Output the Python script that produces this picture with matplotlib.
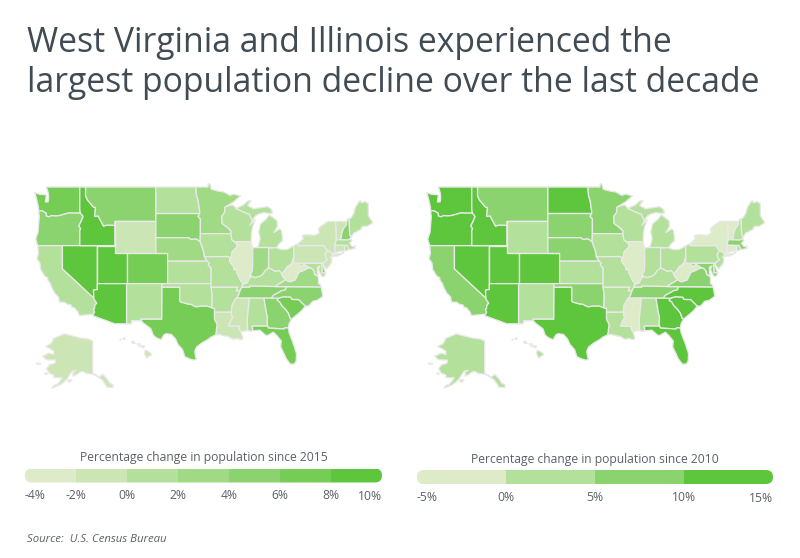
import numpy as np
import matplotlib
matplotlib.use("Agg")
import matplotlib.pyplot as plt
from matplotlib.patches import Polygon, FancyBboxPatch
from matplotlib.colors import BoundaryNorm, ListedColormap
from matplotlib.transforms import Affine2D

plt.rcParams['font.family'] = ['Open Sans', 'DejaVu Sans']

TITLE = "West Virginia and Illinois experienced the\nlargest population decline over the last decade"
SOURCE = "Source:  U.S. Census Bureau"
STATES = ["WA","OR","CA","NV","ID","MT","WY","UT","AZ","CO","NM","ND","SD","NE","KS","OK","TX",
          "MN","IA","MO","AR","LA","WI","IL","MI","IN","OH","KY","TN","MS","AL","GA","FL","SC","NC",
          "VA","WV","PA","NY","VT","NH","ME","MA","CT","RI","NJ","DE","MD","AK","HI"]
CHANGE_2015 = [7,5,1,9,9,5,-1,9,9,7,1,1,5,3,1,1,7,
               3,1,1,1,-1,1,-3,1,3,1,1,5,-1,1,5,7,7,5,
               3,-3,-1,-1,-1,5,1,1,-1,1,-1,5,1,-1,-1]
CHANGE_2010 = [12,12,7,12,12,7,2,12,12,12,2,12,7,7,2,7,12,
               7,2,2,2,2,2,-2,2,2,2,2,7,-2,2,12,12,12,12,
               7,-2,2,-2,-2,2,2,7,-2,2,2,7,7,2,2]
BINS_2015 = [-4,-2,0,2,4,6,8,10]
COLORS_2015 = ["#DDEBC9","#CBE6B4","#B3E09A","#A0DA85","#8BD36F","#75CD56","#5EC63C"]
BINS_2010 = [-5,0,5,10,15]
COLORS_2010 = ["#DDEBC9","#B3E09A","#8BD36F","#5EC63C"]
LEGEND_2015 = "Percentage change in population since 2015"
LEGEND_2010 = "Percentage change in population since 2010"

# State outlines (longitude, latitude)
RED_RIVER = [(-100,34.56),(-99.7,34.4),(-99.2,34.3),(-98.6,34.15),(-98.1,34.13),(-97.6,33.9),(-97.15,33.75),(-96.6,33.85),(-95.9,33.87),(-95.3,33.87),(-94.5,33.63)]
SNAKE = [(-116.92,45.99),(-116.46,45.6),(-116.85,44.95),(-117.2,44.45),(-117.03,44.25),(-116.9,44.15),(-117.03,43.83),(-117.03,42)]
BITTERROOT = [(-116.05,48),(-115.7,47.5),(-114.7,46.7),(-114.35,46.65),(-114.5,45.6),(-113.9,45.65),(-113.45,45.05),(-113,44.45),(-112.3,44.55),(-111.5,44.55),(-111.05,44.48)]
COLORADO_R = [(-114.63,35),(-114.57,34.8),(-114.14,34.3),(-114.45,34),(-114.53,33.5),(-114.72,33.4),(-114.5,33),(-114.72,32.72)]
OHIO_R = [(-82.6,38.4),(-83,38.73),(-83.7,38.65),(-84.25,38.9),(-84.82,39.1),(-85.45,38.7),(-85.8,38.27),(-86.3,38),(-87.1,37.8),(-87.6,37.95),(-88.05,37.8),(-88.45,37.1),(-89.13,36.98)]
MISS_MO = [(-91.42,40.38),(-91.5,40),(-90.75,39.25),(-90.7,38.9),(-90.15,38.8),(-90.2,38.4),(-89.85,37.9),(-89.5,37.3),(-89.13,36.98)]
MISS_IA = [(-91.22,43.5),(-91.1,42.75),(-90.65,42.5),(-90.15,42.1),(-90.3,41.75),(-91.05,41.2),(-91.1,40.7),(-91.42,40.38)]
MISS_AR = [(-90.37,36),(-89.7,36),(-89.9,35.5),(-90.15,35.1),(-90.6,34.7),(-91.1,33.9),(-91.17,33)]
MISS_LA = [(-91.17,33),(-91.1,32.5),(-90.9,32.3),(-91.4,31.6),(-91.6,31)]
MO_RIVER = [(-96.5,42.5),(-96.1,41.7),(-95.9,41.2),(-95.77,40.58)]
ST_CROIX = [(-92.3,46.65),(-92.3,46.1),(-92.8,45.6),(-92.75,44.75),(-91.9,44.3),(-91.25,43.85),(-91.22,43.5)]
RED_N = [(-97.23,49),(-97.1,48),(-96.85,47.5),(-96.6,46.35),(-96.56,45.94)]
SAB_TX = [(-94.04,32),(-93.8,31.6),(-93.55,31.2),(-93.7,30.6),(-93.72,30.1),(-93.85,29.7)]
SAV_R = [(-83.1,35),(-83.35,34.7),(-82.9,34.45),(-82.55,33.95),(-81.9,33.4),(-81.45,32.9),(-81.1,32.1),(-80.87,32.03)]
CHATT = [(-85,31),(-85.05,31.55),(-85,32.3),(-85.18,32.87),(-85.6,34.98)]
NC_SC = [(-83.1,35),(-82.3,35.2),(-81.05,35.15),(-80.8,34.82),(-79.67,34.8),(-78.55,33.87)]
TN_NC = [(-84.32,35),(-84,35.4),(-83.1,35.77),(-82.6,36.03),(-82,36.12),(-81.68,36.59)]
WV_VA = [(-77.83,39.13),(-78.35,39),(-78.87,38.77),(-79.65,38.55),(-80.3,37.5),(-81.25,37.25),(-81.97,37.54)]
KY_VA = [(-83.68,36.6),(-83.1,36.95),(-82.3,37.3),(-81.97,37.54)]
rev = lambda p: p[::-1]

SHAPES = {
"WA":[[(-124.7,48.38),(-123.9,48.17),(-123.1,48.15),(-122.75,48.1),(-122.9,47.3),(-122.45,47.3),(-122.35,47.7),(-122.4,48.3),(-122.75,49),(-117.03,49),(-117.04,46.42),(-116.92,45.99),(-118.98,46),(-119.3,45.93),(-120.5,45.7),(-121.2,45.65),(-121.8,45.7),(-122.3,45.55),(-122.75,45.65),(-122.8,46),(-123.2,46.15),(-123.5,46.26),(-124.05,46.27),(-124.1,46.7),(-124.2,47),(-124.4,47.6)]],
"OR":[[(-124.05,46.27),(-123.5,46.26),(-123.2,46.15),(-122.8,46),(-122.75,45.65),(-122.3,45.55),(-121.8,45.7),(-121.2,45.65),(-120.5,45.7),(-119.3,45.93),(-118.98,46)]+SNAKE+[(-124.2,42),(-124.4,42.4),(-124.55,42.85),(-124.15,43.7),(-124.05,44.7),(-123.95,45.5)]],
"CA":[[(-124.2,42),(-120,42),(-120,39)]+COLORADO_R+[(-117.12,32.53),(-117.3,33),(-117.9,33.6),(-118.4,33.75),(-118.5,34.03),(-119.2,34.15),(-119.6,34.42),(-120.5,34.45),(-120.65,35.15),(-121.3,35.7),(-121.9,36.6),(-122,36.95),(-122.5,37.5),(-122.5,37.8),(-123,38),(-123.7,38.9),(-123.85,39.8),(-124.35,40.3),(-124.1,41)]],
"NV":[[(-120,42),(-114.04,42),(-114.04,36.2),(-114.7,36.1),(-114.63,35),(-120,39)]],
"ID":[[(-117.03,49),(-116.05,49)]+BITTERROOT+[(-111.05,42)]+rev(SNAKE)+[(-117.04,46.42)]],
"MT":[[(-116.05,49),(-104.05,49),(-104.05,45),(-111.05,45)]+rev(BITTERROOT)],
"WY":[[(-111.05,45),(-104.05,45),(-104.05,41),(-111.05,41)]],
"UT":[[(-114.04,42),(-111.05,42),(-111.05,41),(-109.05,41),(-109.05,37),(-114.04,37)]],
"CO":[[(-109.05,41),(-102.05,41),(-102.05,37),(-109.05,37)]],
"AZ":[[(-114.04,37),(-109.05,37),(-109.05,31.33),(-111.07,31.33),(-114.8,32.5)]+rev(COLORADO_R)+[(-114.7,36.1),(-114.04,36.2)]],
"NM":[[(-109.05,37),(-103,37),(-103.04,32),(-106.62,32),(-106.53,31.78),(-108.2,31.78),(-108.2,31.33),(-109.05,31.33)]],
"TX":[[(-103,36.5),(-100,36.5)]+RED_RIVER+[(-94.04,33.55),(-94.04,33)]+SAB_TX+[(-94.7,29.35),(-95.2,29),(-96.2,28.5),(-97.1,27.9),(-97.4,27.3),(-97.35,26.8),(-97.15,25.96),(-97.6,25.9),(-98.2,26.05),(-99.1,26.4),(-99.5,27.5),(-100.3,28.3),(-100.7,29.1),(-101.4,29.77),(-102.3,29.88),(-102.7,29.7),(-103.15,28.98),(-104,29.3),(-104.5,29.65),(-104.9,30.6),(-106.2,31.45),(-106.53,31.78),(-106.62,32),(-103.04,32)]],
"OK":[[(-103,37),(-94.62,37),(-94.62,36.5),(-94.43,35.39)]+rev(RED_RIVER)+[(-100,36.5),(-103,36.5)]],
"KS":[[(-102.05,40),(-95.3,40),(-94.9,39.75),(-95.1,39.5),(-94.62,39.1),(-94.62,37),(-102.05,37)]],
"NE":[[(-104.05,43),(-98.5,43),(-98,42.77),(-97.2,42.85)]+MO_RIVER+[(-95.3,40),(-102.05,40),(-102.05,41),(-104.05,41)]],
"SD":[[(-104.05,45.94),(-96.56,45.94),(-96.85,45.6),(-96.45,45.3),(-96.45,43.5),(-96.5,42.5),(-97.2,42.85),(-98,42.77),(-98.5,43),(-104.05,43)]],
"ND":[[(-104.05,49)]+RED_N+[(-104.05,45.94)]],
"MN":[[(-97.23,49),(-95.15,49),(-95.15,49.38),(-94.8,49.3),(-94.6,48.75),(-93.5,48.55),(-92.5,48.45),(-91.4,48.05),(-90.8,48.2),(-89.6,48),(-90.8,47.3),(-92.1,46.75)]+ST_CROIX+[(-96.45,43.5),(-96.45,45.3),(-96.85,45.6)]+rev(RED_N)[:-1]],
"IA":[[(-96.45,43.5)]+MISS_IA+[(-91.7,40.6)]+rev(MO_RIVER)],
"MO":[[(-95.77,40.58),(-91.7,40.6)]+MISS_MO+[(-89.4,36.5),(-89.7,36),(-90.37,36),(-90.1,36.5),(-94.62,36.5),(-94.62,39.1),(-95.1,39.5),(-94.9,39.75),(-95.3,40)]],
"AR":[[(-94.62,36.5),(-90.1,36.5)]+MISS_AR+[(-94.04,33),(-94.04,33.55),(-94.5,33.63),(-94.43,35.39)]],
"LA":[[(-94.04,33)]+MISS_LA+[(-89.75,31),(-89.85,30.65),(-89.55,30.2),(-89.4,29.8),(-89.2,29.3),(-89.4,28.95),(-90.1,29.15),(-90.9,29.05),(-91.8,29.5),(-92.3,29.55),(-93.2,29.77)]+rev(SAB_TX)],
"MS":[[(-90.3,35),(-88.2,35),(-88.1,34.9),(-88.47,31.9),(-88.4,30.35),(-89.55,30.2),(-89.85,30.65),(-89.75,31)]+rev(MISS_LA)+[(-91.1,33.9),(-90.6,34.7)]],
"AL":[[(-88.2,35)]+rev(CHATT)+[(-87.6,31),(-87.5,30.3),(-88,30.25),(-88.4,30.35),(-88.47,31.9),(-88.1,34.9)]],
"GA":[[(-85.6,34.98),(-84.32,35)]+SAV_R+[(-81.3,31.4),(-81.45,30.72),(-82.05,30.75),(-82.2,30.57),(-84.86,30.71)]+CHATT],
"FL":[[(-87.6,31),(-85,31),(-84.86,30.71),(-82.2,30.57),(-82.05,30.75),(-81.45,30.72),(-81.3,30),(-80.6,28.4),(-80.05,26.9),(-80.1,25.8),(-80.4,25.3),(-81.1,25.28),(-81.8,26.1),(-82.2,26.9),(-82.75,27.9),(-82.65,28.8),(-83.4,29.6),(-84,30.1),(-85,29.6),(-85.4,29.7),(-86.3,30.4),(-87.5,30.3)]],
"SC":[NC_SC+[(-79.2,33.2),(-79.9,32.7)]+rev(SAV_R)],
"NC":[[(-84.32,35)]+NC_SC+[(-77.95,33.9),(-77.3,34.55),(-76.5,34.7),(-75.55,35.25),(-75.85,36.55)]+rev(TN_NC)],
"TN":[[(-90.3,35),(-88.2,35),(-85.6,34.98)]+TN_NC+[(-83.68,36.6),(-86.5,36.65),(-88.07,36.65),(-88.07,36.5),(-89.4,36.5),(-89.7,36),(-89.9,35.5),(-90.15,35.1)]],
"KY":[[(-89.4,36.5),(-88.07,36.5),(-88.07,36.65),(-86.5,36.65)]+KY_VA+[(-82.6,38.17)]+OHIO_R],
"IL":[[(-90.65,42.5),(-87.8,42.5),(-87.55,41.7),(-87.53,39.35),(-87.6,38.7),(-87.95,38.2),(-88.05,37.8),(-88.45,37.1)]+rev(MISS_MO)+[(-91.1,40.7),(-91.05,41.2),(-90.3,41.75),(-90.15,42.1)]],
"IN":[[(-87.53,41.72),(-87.2,41.75),(-86.8,41.76),(-84.8,41.76),(-84.82,39.1),(-85.45,38.7),(-85.8,38.27),(-86.3,38),(-87.1,37.8),(-87.6,37.95),(-87.95,38.2),(-87.6,38.7),(-87.53,39.35)]],
"OH":[[(-84.8,41.7),(-83.45,41.73),(-82.7,41.5),(-81.7,41.5),(-80.52,41.98),(-80.52,40.64),(-80.7,40.1),(-80.85,39.7),(-81.7,39.2),(-82.2,38.6),(-82.6,38.4),(-83,38.73),(-83.7,38.65),(-84.25,38.9),(-84.82,39.1)]],
"MI":[[(-86.8,41.76),(-84.8,41.76),(-83.45,41.73),(-83.15,42.1),(-82.5,42.6),(-82.45,43),(-82.6,43.9),(-82.95,44.07),(-83.9,43.65),(-83.3,44.4),(-83.4,45.1),(-84.7,45.78),(-85.1,45.4),(-85.5,45.1),(-86.2,44.7),(-86.5,43.7),(-86.25,42.9),(-86.6,41.9)],
      [(-90.4,46.55),(-89.1,46.95),(-88.4,47.4),(-87.8,47.45),(-88.4,46.9),(-87.4,46.5),(-86,46.65),(-85,46.75),(-84.4,46.5),(-84.1,46),(-84.8,45.95),(-85.6,46.05),(-86.4,45.9),(-87,45.7),(-87.6,45.1),(-88.1,45.85),(-89.1,46.13)]],
"WI":[[(-92.1,46.75),(-90.9,46.95),(-90.4,46.55),(-89.1,46.13),(-88.1,45.85),(-87.6,45.1),(-88,44.55),(-87.1,45.25),(-87.55,44.3),(-87.75,43.5),(-87.8,42.5),(-90.65,42.5),(-91.1,42.75)]+rev(ST_CROIX)],
"PA":[[(-80.52,41.98),(-79.76,42.27),(-79.76,42),(-75.35,42),(-75.05,41.6),(-74.7,41.36),(-75.15,40.95),(-75.05,40.45),(-74.75,40.2),(-75.4,39.8),(-75.79,39.72),(-80.52,39.72),(-80.52,40.64)]],
"NY":[[(-79.76,42.27),(-79.76,42),(-75.35,42),(-75.05,41.6),(-74.7,41.36),(-73.9,41),(-74.02,40.7),(-73.65,41),(-73.5,41.3),(-73.5,42.05),(-73.25,42.75),(-73.3,44),(-73.35,45),(-74.7,45),(-75.8,44.45),(-76.3,44.15),(-76.2,43.55),(-76.9,43.3),(-78.5,43.37),(-79.05,43.27),(-78.9,42.85)],
      [(-74,40.6),(-73.7,40.9),(-72.6,40.98),(-72,41.1),(-72.9,40.7)]],
"VT":[[(-73.35,45),(-71.5,45),(-71.55,44.6),(-72.05,44.1),(-72.3,43.6),(-72.45,43),(-72.46,42.73),(-73.25,42.75),(-73.3,44)]],
"NH":[[(-71.5,45),(-71.3,45.3),(-71.08,45.3),(-70.98,43.4),(-70.72,43.07),(-70.82,42.87),(-71.3,42.7),(-72.46,42.73),(-72.45,43),(-72.3,43.6),(-72.05,44.1),(-71.55,44.6)]],
"ME":[[(-71.08,45.3),(-70.8,45.4),(-70.3,45.9),(-70,46.7),(-69.23,47.46),(-68.9,47.2),(-68.3,47.35),(-67.8,47.07),(-67.8,45.7),(-67.45,45.3),(-67,44.85),(-68,44.4),(-68.8,44.4),(-69.1,44),(-69.8,43.75),(-70.25,43.6),(-70.72,43.07),(-70.98,43.4)]],
"MA":[[(-73.25,42.75),(-72.46,42.73),(-71.3,42.7),(-70.82,42.87),(-70.6,42.65),(-71,42.3),(-70.65,41.95),(-70.05,41.8),(-70.15,42.05),(-69.95,41.67),(-70.65,41.55),(-71.13,41.5),(-71.2,41.65),(-71.38,41.9),(-71.38,42.02),(-71.8,42.02),(-73.5,42.05)]],
"RI":[[(-71.8,42.02),(-71.38,42.02),(-71.38,41.9),(-71.2,41.65),(-71.13,41.5),(-71.5,41.37),(-71.85,41.32)]],
"CT":[[(-73.5,42.05),(-71.8,42.02),(-71.85,41.32),(-72.9,41.25),(-73.65,41),(-73.5,41.3)]],
"NJ":[[(-74.7,41.36),(-73.9,41),(-74.02,40.7),(-74.25,40.5),(-74,40.45),(-74.1,39.75),(-74.9,38.95),(-75.15,39.2),(-75.55,39.55),(-75.4,39.8),(-74.75,40.2),(-75.05,40.45),(-75.15,40.95)]],
"DE":[[(-75.79,39.72),(-75.4,39.8),(-75.55,39.55),(-75.4,39.1),(-75.05,38.45),(-75.7,38.46)]],
"MD":[[(-79.48,39.72),(-75.79,39.72),(-75.7,38.46),(-75.05,38.45),(-75.25,38.03),(-75.65,37.95),(-75.9,38.2),(-76.3,38.9),(-76.05,39.4),(-76.5,39.2),(-76.45,38.4),(-76.3,38.05),(-76.95,38.25),(-77.05,38.7),(-77.5,39.1),(-77.83,39.13),(-78.35,39.4),(-78.8,39.6),(-79.48,39.2)]],
"VA":[[(-83.68,36.6),(-81.68,36.59),(-75.85,36.55),(-76,36.9),(-76.3,37),(-76.3,37.9),(-76.95,38.25),(-77.05,38.7),(-77.5,39.1)]+WV_VA+rev(KY_VA)[1:]],
"WV":[[(-80.52,40.64),(-80.52,39.72),(-79.48,39.72),(-79.48,39.2),(-78.8,39.6),(-78.35,39.4)]+WV_VA+[(-82.6,38.17),(-82.6,38.4),(-82.2,38.6),(-81.7,39.2),(-80.85,39.7),(-80.7,40.1)]],
"AK":[[(-141,69.65),(-141,60.3),(-137.5,58.9),(-135.5,59.8),(-133.5,58.4),(-131.8,56.6),(-130,56),(-130,55),(-131.5,55),(-133.2,55),(-134.5,56.5),(-136,58),(-137.5,58.6),(-139.8,59.6),(-142.5,60.05),(-144.5,60.2),(-146.5,60.9),(-148.3,60.5),(-149.5,59.8),(-151.7,59.2),(-151.5,60.6),(-150,61.2),(-152,61),(-153.5,59.7),(-154.5,58.5),(-156.5,57),(-158.5,56),(-161,55.2),(-163,54.7),(-162,55.8),(-160.5,56),(-158.5,57.4),(-157.5,58.7),(-159,58.6),(-162,58.7),(-161.9,59.6),(-164.5,60.3),(-165.3,61.2),(-166,61.7),(-165,62.5),(-164.5,63),(-161.5,63.5),(-161,64.5),(-163,64.5),(-166,64.6),(-168,65.6),(-164.5,66.5),(-162,66.1),(-162,67),(-164,67.7),(-166.5,68.3),(-163.5,69),(-162,70.3),(-157,71.2),(-156.5,71.35),(-152,70.85),(-148,70.4),(-143,70.1)],
      [(-154.6,57.5),(-153.2,58),(-152.2,57.6),(-153.8,56.9)],[(-167,60.2),(-165.7,60.4),(-165.7,59.9),(-166.8,59.9)],[(-171.5,63.6),(-169,63.4),(-170.5,63.1)]],
"HI":[[(-155.9,20.25),(-155.1,19.85),(-154.8,19.5),(-155.7,18.95),(-156.05,19.7)],[(-156.7,20.9),(-156.25,20.95),(-156,20.75),(-156.4,20.6)],[(-157.3,21.2),(-156.75,21.17),(-157.1,21.08)],[(-158.25,21.55),(-157.95,21.7),(-157.65,21.3),(-158.1,21.3)],[(-159.75,22.1),(-159.4,22.22),(-159.35,21.95),(-159.6,21.9)],[(-160.25,22),(-160.05,21.98),(-160.15,21.8)],[(-157.05,20.9),(-156.85,20.88),(-156.95,20.74)]],
}

PX_W, PX_H = 800, 558
RIGHT_SHIFT = 392
LON_SCALE = 5.86          # reference pixels per degree of longitude

def merc(lat):
    return np.log(np.tan(np.pi / 4 + np.radians(lat) / 2))

def project(state, pts):
    a = np.array(pts, float)
    R = LON_SCALE * 180 / np.pi
    if state == "AK":
        return np.c_[52 + 1.85 * (a[:, 0] + 163), 388 - (merc(a[:, 1]) - merc(54.7)) * 82]
    if state == "HI":
        return np.c_[147.7 + LON_SCALE * (a[:, 0] + 155.5), 354 - (merc(a[:, 1]) - merc(19.6)) * R]
    return np.c_[373 + LON_SCALE * (a[:, 0] + 67), 187 - (merc(a[:, 1]) - merc(49)) * R]

def px_axes(fig, x0, y0, x1, y1):
    return fig.add_axes([x0 / PX_W, 1 - y1 / PX_H, (x1 - x0) / PX_W, (y1 - y0) / PX_H])

def draw_map(fig, shift, values, bins, colors):
    ax = px_axes(fig, shift, 170, shift + 400, 400)
    ax.set_xlim(0, 400); ax.set_ylim(400, 170); ax.axis("off")
    cmap, norm = ListedColormap(colors), BoundaryNorm(bins, len(colors))
    for state, value in zip(STATES, values):
        for part in SHAPES[state]:
            ax.add_patch(Polygon(project(state, part), closed=True, facecolor=cmap(norm(value)),
                                 edgecolor="#E9E9E9", linewidth=0.95, joinstyle="round"))

def draw_legend(fig, x0, x1, ytop, ybot, bins, colors, title):
    ax = px_axes(fig, x0, ytop, x1, ybot)
    ax.set_xlim(bins[0], bins[-1]); ax.set_ylim(0, 1); ax.axis("off")
    px_w, px_h = x1 - x0, ybot - ytop
    clip = FancyBboxPatch((0, 0), px_w, px_h, boxstyle=f"round,pad=0,rounding_size={px_h*0.5}",
                          transform=Affine2D().scale(1 / px_w, 1 / px_h) + ax.transAxes,
                          fill=False, lw=0)
    ax.add_patch(clip)
    for lo, hi, c in zip(bins[:-1], bins[1:], colors):
        b = ax.bar(lo, 1, width=hi - lo, bottom=0, align="edge", color=c, linewidth=0)[0]
        b.set_clip_path(clip)
    tr = ax.get_xaxis_transform()
    for i, v in enumerate(bins):
        ha = "left" if i == 0 else ("right" if i == len(bins) - 1 else "center")
        dy = -1.0 if i == len(bins) - 1 else 0
        ax.annotate(f"{v}%", (v, 0), xycoords=tr, xytext=(0, -13.3 * 0.72 + dy * 0.72), textcoords="offset points",
                    ha=ha, va="center", fontsize=8.75, color="#5B6168", annotation_clip=False)
    ax.annotate(title, (0.5, 1), xycoords="axes fraction", xytext=(0, 10.5 * 0.72), textcoords="offset points",
                ha="center", va="center", fontsize=8.75, color="#5B6168", annotation_clip=False)

fig = plt.figure(figsize=(8, 5.58), dpi=100, facecolor="white")
fig.text(27 / PX_W, 1 - 26.5 / PX_H, TITLE, fontsize=24.3, color="#414B54", va="top", ha="left", linespacing=1.23)
draw_map(fig, 0, CHANGE_2015, BINS_2015, COLORS_2015)
draw_map(fig, RIGHT_SHIFT, CHANGE_2010, BINS_2010, COLORS_2010)
draw_legend(fig, 25, 382, 468.5, 482.5, BINS_2015, COLORS_2015, LEGEND_2015)
draw_legend(fig, 417, 773, 470, 484, BINS_2010, COLORS_2010, LEGEND_2010)
fig.text(27 / PX_W, 1 - 539.5 / PX_H, SOURCE, fontsize=8.2, style="italic", color="#5B6168", va="center", ha="left")
fig.savefig("out.png", dpi=100)
